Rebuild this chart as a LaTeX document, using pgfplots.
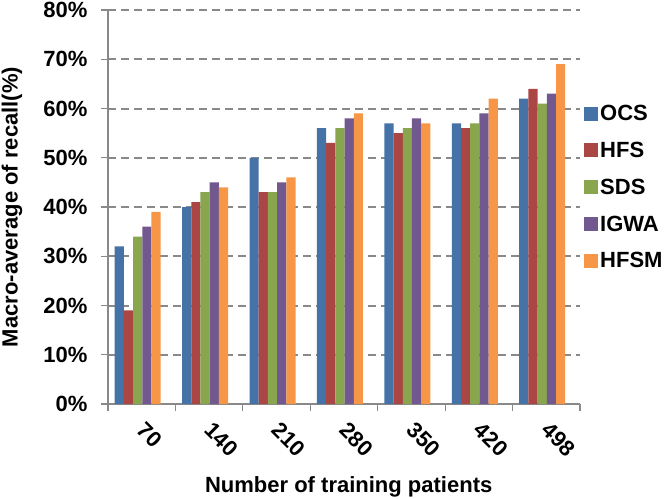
\documentclass[border=0pt]{standalone}
\usepackage{fontspec}
\setmainfont{Liberation Sans}
\usepackage{pgfplots}
\pgfplotsset{compat=1.18}
\definecolor{cOCS}{HTML}{4572A7}
\definecolor{cHFS}{HTML}{AA4643}
\definecolor{cSDS}{HTML}{89A54E}
\definecolor{cIGWA}{HTML}{71588F}
\definecolor{cHFSM}{HTML}{F79646}
\definecolor{axisgray}{HTML}{898989}
\newcommand{\bigfont}{\fontsize{22}{26}\selectfont\bfseries}
\begin{document}
\begin{tikzpicture}
\begin{axis}[
  scale only axis, width=472pt, height=394pt,
  ybar=0pt, bar width=9.2pt,
  xmin=-0.44, xmax=6.56, ymin=0, ymax=80,
  axis x line*=bottom, axis y line*=left,
  axis line style={draw=axisgray, line width=1.6pt},
  xtick={0,...,6}, xticklabels={70,140,210,280,350,420,498},
  minor xtick={-0.44,0.56,1.56,2.56,3.56,4.56,5.56,6.56},
  major x tick style={draw=none},
  minor x tick style={draw=axisgray, line width=1.2pt},
  ytick={0,10,...,80},
  yticklabel={\pgfmathprintnumber{\tick}\%},
  /pgf/number format/assume math mode=true,
  tick align=outside, major tick length=7pt, minor tick length=7pt,
  y tick style={draw=axisgray, line width=1.2pt},
  ymajorgrids, major grid style={draw=axisgray, line width=2pt, dash pattern=on 8pt off 5pt},
  tick label style={font=\bigfont},
  xticklabel style={xshift=9pt, yshift=-5pt, rotate=-45, anchor=north west},
  yticklabel style={xshift=-10pt},
  xlabel={Number of training patients},
  ylabel={Macro-average of recall(\%)},
  label style={font=\bigfont},
  xlabel style={at={(axis description cs:0.51,-0.21)}, anchor=center},
  ylabel style={at={(axis description cs:-0.2034,0.5)}, anchor=center},
  legend style={at={(axis description cs:1.0085,0.55)}, anchor=west, draw=none, fill=none,
    font=\bigfont, row sep=16pt, inner sep=0pt},
  legend cell align=left,
  legend image code/.code={\fill[#1] (0pt,-7pt) rectangle (14pt,7pt);},
  every axis plot/.append style={draw=none},
]
\addplot[fill=cOCS] coordinates {(0,32) (1,40) (2,50) (3,56) (4,57) (5,57) (6,62)};
\addplot[fill=cHFS] coordinates {(0,19) (1,41) (2,43) (3,53) (4,55) (5,56) (6,64)};
\addplot[fill=cSDS] coordinates {(0,34) (1,43) (2,43) (3,56) (4,56) (5,57) (6,61)};
\addplot[fill=cIGWA] coordinates {(0,36) (1,45) (2,45) (3,58) (4,58) (5,59) (6,63)};
\addplot[fill=cHFSM] coordinates {(0,39) (1,44) (2,46) (3,59) (4,57) (5,62) (6,69)};
\legend{OCS,HFS,SDS,IGWA,HFSM}
\end{axis}
\pgfresetboundingbox
\path[use as bounding box] ([xshift=-108pt,yshift=-94pt]current axis.south west) rectangle ++(666pt,498pt);
\end{tikzpicture}
\end{document}
